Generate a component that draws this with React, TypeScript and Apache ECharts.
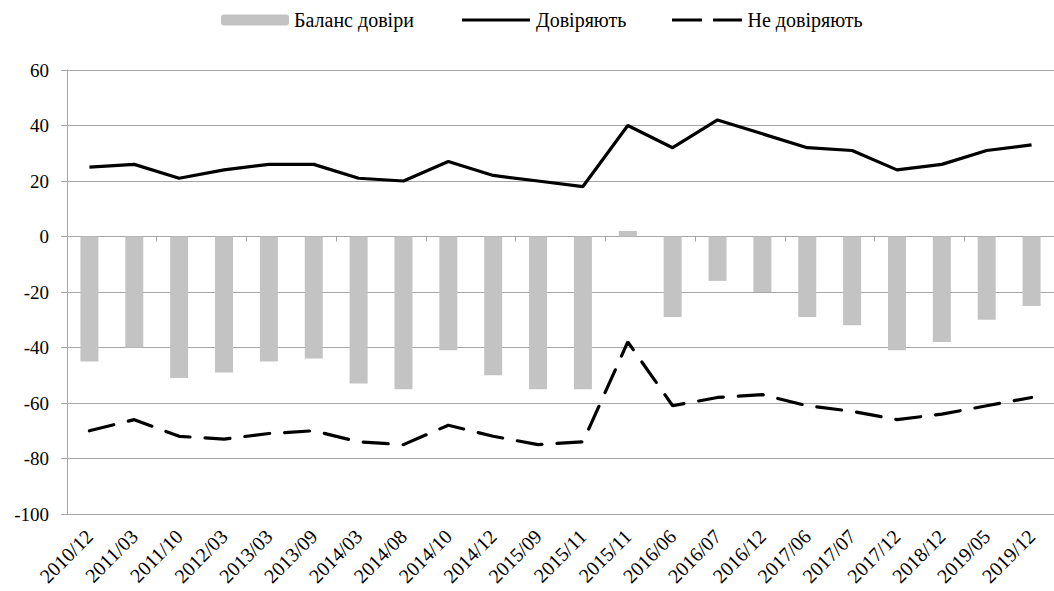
import React, { useEffect, useRef } from "react";
import * as echarts from "echarts";

const categories = [
  "2010/12", "2011/03", "2011/10", "2012/03", "2013/03", "2013/09", "2014/03", "2014/08",
  "2014/10", "2014/12", "2015/09", "2015/11", "2015/11", "2016/06", "2016/07", "2016/12",
  "2017/06", "2017/07", "2017/12", "2018/12", "2019/05", "2019/12",
];
const balance = [-45, -40, -51, -49, -45, -44, -53, -55, -41, -50, -55, -55, 2, -29, -16, -20, -29, -32, -41, -38, -30, -25];
const trust = [25, 26, 21, 24, 26, 26, 21, 20, 27, 22, 20, 18, 40, 32, 42, 37, 32, 31, 24, 26, 31, 33];
const distrust = [-70, -66, -72, -73, -71, -70, -74, -75, -68, -72, -75, -74, -38, -61, -58, -57, -61, -63, -66, -64, -61, -58];

const FONT = "'Liberation Serif', 'Times New Roman', serif";
const GRID_COLOR = "#a6a6a6";
const SOLID_ICON = "path://M0,0 M0,11 M0,4 L68,4 L68,7 L0,7 Z";
const DASH_ICON = "path://M0,0 M0,11 M0,4 L30,4 L30,7 L0,7 Z M41,4 L70,4 L70,7 L41,7 Z";

const legendText = { fontFamily: FONT, fontSize: 20, color: "#000" };

export default function App() {
  const ref = useRef<HTMLDivElement>(null);
  useEffect(() => {
    if (!ref.current) return;
    const chart = echarts.init(ref.current, null, { renderer: "svg" });
    chart.setOption({
      animation: false,
      backgroundColor: "#ffffff",
      legend: [
        {
          left: 216,
          top: 5,
          itemWidth: 68,
          itemHeight: 11,
          textStyle: legendText,
          data: [{ name: "Баланс довіри" }],
        },
        {
          left: 457,
          top: 5,
          itemWidth: 70,
          itemHeight: 11,
          textStyle: legendText,
          data: [{ name: "Довіряють", icon: SOLID_ICON }],
        },
        {
          left: 667,
          top: 5,
          itemWidth: 71,
          itemHeight: 11,
          textStyle: legendText,
          data: [{ name: "Не довіряють", icon: DASH_ICON }],
        },
      ],
      grid: { left: 67, right: -5, top: 70, bottom: 77, containLabel: false },
      xAxis: [
        {
          type: "category",
          data: categories,
          position: "bottom",
          axisLine: { show: false, onZero: false },
          axisTick: { show: false },
          axisLabel: {
            interval: 0,
            rotate: 45,
            margin: 19,
            fontFamily: FONT,
            fontSize: 20,
            color: "#000",
          },
          splitLine: { show: false },
        },
        {
          type: "category",
          data: categories,
          position: "bottom",
          axisLine: { show: true, onZero: true, lineStyle: { color: GRID_COLOR, width: 1 } },
          axisTick: { show: true, length: 5, lineStyle: { color: GRID_COLOR } },
          axisLabel: { show: false },
          splitLine: { show: false },
        },
      ],
      yAxis: {
        type: "value",
        min: -100,
        max: 60,
        interval: 20,
        axisLine: { show: true, lineStyle: { color: GRID_COLOR, width: 1 } },
        axisTick: { show: true, length: 6, lineStyle: { color: GRID_COLOR } },
        axisLabel: { fontFamily: FONT, fontSize: 19, color: "#000", margin: 18 },
        splitLine: { show: true, lineStyle: { color: GRID_COLOR, width: 1 } },
      },
      series: [
        {
          name: "Баланс довіри",
          type: "bar",
          xAxisIndex: 0,
          data: balance,
          barWidth: 18,
          itemStyle: { color: "#c3c3c3" },
          z: 2,
        },
        {
          name: "Довіряють",
          type: "line",
          xAxisIndex: 0,
          data: trust,
          symbol: "none",
          lineStyle: { color: "#000", width: 3.2 },
          itemStyle: { color: "#000" },
          z: 3,
        },
        {
          name: "Не довіряють",
          type: "line",
          xAxisIndex: 0,
          data: distrust,
          symbol: "none",
          lineStyle: { color: "#000", width: 3.2, type: [25, 15], cap: "round" },
          itemStyle: { color: "#000" },
          z: 3,
        },
      ],
    });
    return () => chart.dispose();
  }, []);
  return (
    <div
      ref={ref}
      style={{ position: "absolute", left: 0, top: 0, width: 1054, height: 591, background: "#fff" }}
    />
  );
}
